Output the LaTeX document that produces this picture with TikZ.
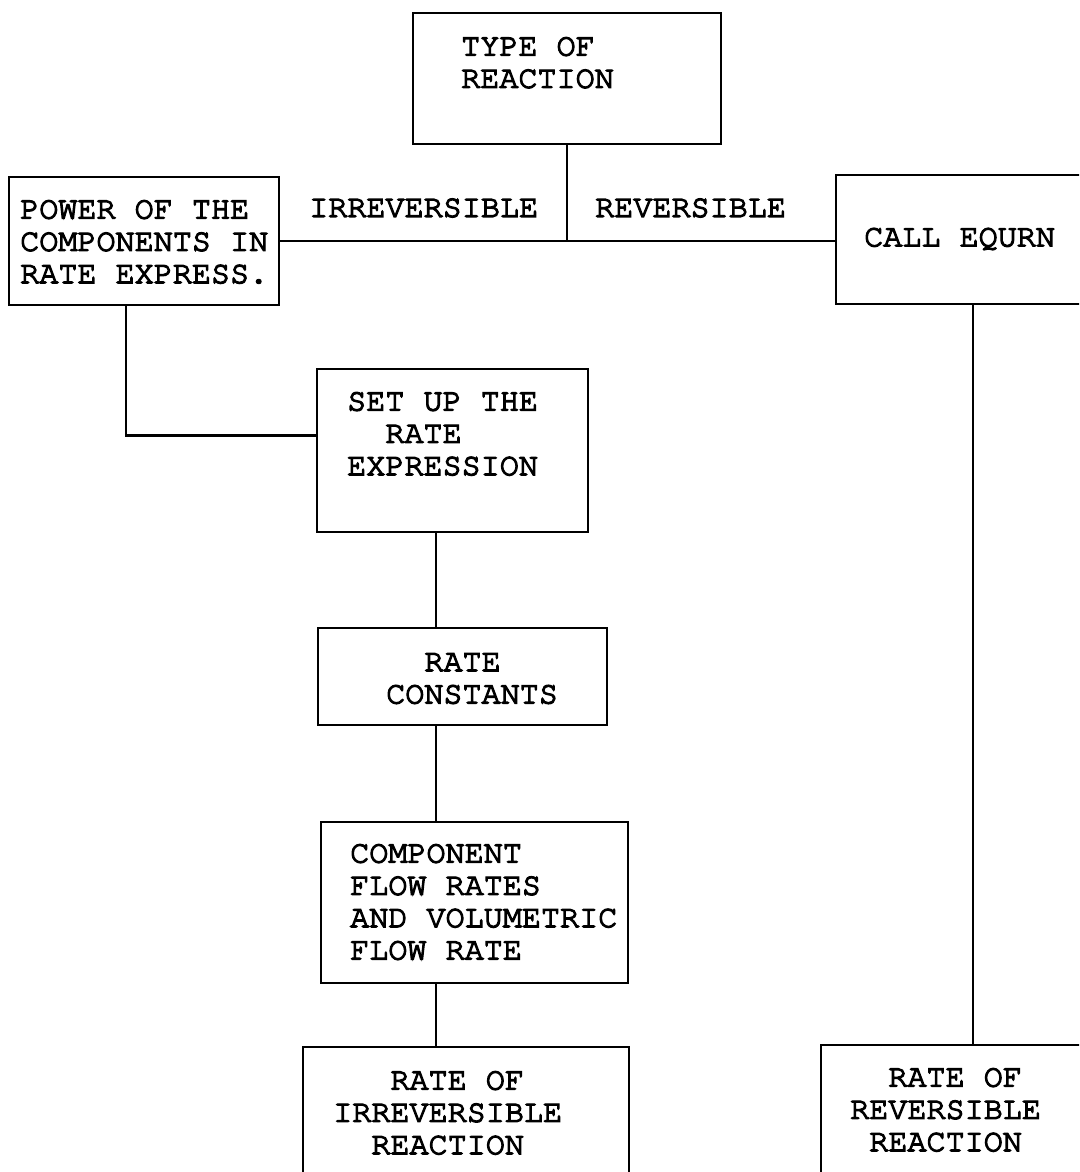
\documentclass[tikz,border=0pt]{standalone}
\usepackage{fontspec}
\newfontfamily\tw{texgyrecursor-regular.otf}[FakeBold=4]
\begin{document}
\begin{tikzpicture}[x=1pt,y=-1pt,
  box/.style={draw, line width=2.3pt, rectangle, inner sep=0pt, outer sep=0pt, anchor=north west},
  txt/.style={font=\tw\fontsize{31.8}{32.3}\selectfont, align=left, inner sep=0pt, anchor=north west},
  lbl/.style={font=\tw\fontsize{31.8}{32.3}\selectfont, inner sep=0pt, anchor=west},
  con/.style={line width=2.2pt}]
\useasboundingbox (0,0) rectangle (1079,1172);
\fill[white] (0,0) rectangle (1079,1172);
\clip (0,0) rectangle (1079,1172);
% boxes
\node[box, minimum width=308pt, minimum height=131pt] (type) at (413,13) {};
\node[box, minimum width=270pt, minimum height=128pt] (power) at (9,177) {};
\node[box, minimum width=274pt, minimum height=129pt] (call) at (836,175) {};
\node[box, minimum width=271pt, minimum height=163pt] (setup) at (317,369) {};
\node[box, minimum width=289pt, minimum height=97pt] (rconst) at (318,628) {};
\node[box, minimum width=307pt, minimum height=161pt] (comp) at (321,822) {};
\node[box, minimum width=326pt, minimum height=200pt] (irr) at (303,1047) {};
\node[box, minimum width=304pt, minimum height=200pt] (rrev) at (821,1045) {};
% texts
\node[txt] (ttype) at (461,37) {TYPE OF\\REACTION};
\node[txt] (tpower) at (20,200) {POWER OF THE\\COMPONENTS IN\\RATE EXPRESS.};
\node[lbl] (tcall) at (864,239) {CALL EQURN};
\node[txt] (tsetup) at (347,392) {SET UP THE\\\hphantom{SE}RATE\\EXPRESSION};
\node[txt] (trconst) at (386,653) {\hphantom{CO}RATE\\CONSTANTS};
\node[txt] (tcomp) at (350,844) {COMPONENT\\FLOW RATES\\AND VOLUMETRIC\\FLOW RATE};
\node[txt] (tirr) at (333,1071) {\hphantom{IRR}RATE OF\\IRREVERSIBLE\\\hphantom{IR}REACTION};
\node[txt] (trrev) at (850,1068) {\hphantom{RE}RATE OF\\REVERSIBLE\\\hphantom{R}REACTION};
\node[lbl] (tirrlbl) at (309,208) {IRREVERSIBLE};
\node[lbl] (trevlbl) at (595,208) {REVERSIBLE};
% connectors
\coordinate (spine) at (436,0);
\draw[con] (power.east) -- (power.east -| call.west);
\draw[con] (type.south) -- (type.south |- power.east);
\draw[con] ([xshift=-18pt]power.south) |- ([yshift=15pt]setup.west);
\draw[con] (setup.south -| spine) -- (rconst.north -| spine);
\draw[con] (rconst.south -| spine) -- (comp.north -| spine);
\draw[con] (comp.south -| spine) -- (irr.north -| spine);
\draw[con] (call.south) -- (rrev.north);
\end{tikzpicture}
\end{document}
